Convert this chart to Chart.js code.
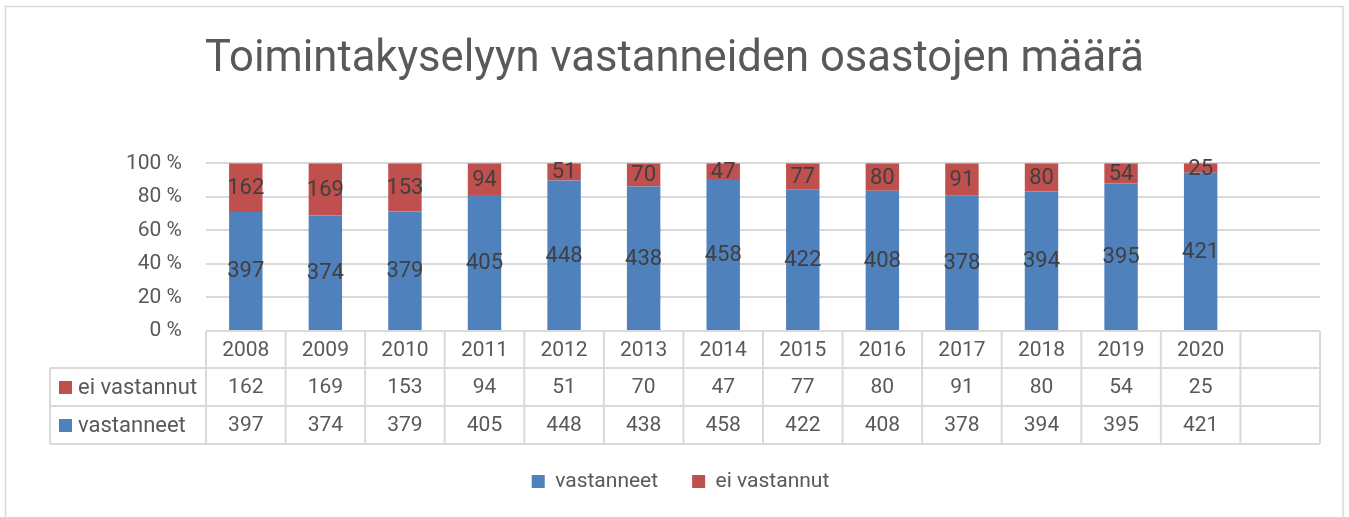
<!DOCTYPE html>
<html>
<head>
<meta charset="utf-8">
<script src="https://cdn.jsdelivr.net/npm/chart.js@4/dist/chart.umd.min.js"></script>
<style>
  html, body { margin: 0; padding: 0; background: #fff; }
  #wrap { width: 1349px; height: 517px; }
</style>
</head>
<body>
<div id="wrap"><canvas id="myChart" width="1349" height="517"></canvas></div>
<script>
const years = ['2008','2009','2010','2011','2012','2013','2014','2015','2016','2017','2018','2019','2020','']
const vastanneet = [397, 374, 379, 405, 448, 438, 458, 422, 408, 378, 394, 395, 421, null]
const eiVastannut = [162, 169, 153, 94, 51, 70, 47, 77, 80, 91, 80, 54, 25, null]
const yTicks = [0, 20, 40, 60, 80, 100]

const FONT = 'Roboto, "Open Sans", sans-serif'
const BLUE = '#4f81bd'
const RED = '#c0504d'
const GRID = '#d9d9d9'

// 100 % pinottu: osuudet lasketaan kappalemääristä
const share = (arr, i) => {
    const a = vastanneet[i], b = eiVastannut[i]
    if (a == null || b == null) return null
    return arr[i] / (a + b) * 100
}
const pctVast = years.map((_, i) => share(vastanneet, i))
const pctEi = years.map((_, i) => share(eiVastannut, i))

// kehys ja valkoinen tausta
const framePlugin = {
    id: 'frame',
    afterLayout(chart) {
        // selite hieman oikealle kuten alkuperäisessä
        chart.legend.left += 6
        chart.legend.right += 6
    },
    beforeDraw(chart) {
        const c = chart.ctx
        c.save()
        c.fillStyle = '#fff'
        c.fillRect(0, 0, chart.width, chart.height)
        c.strokeStyle = GRID
        c.lineWidth = 1.5
        c.strokeRect(5.5, 6.5, 1337.5, 530)
        c.restore()
    }
}

// arvot pylväiden keskelle
const labelPlugin = {
    id: 'segLabels',
    afterDatasetsDraw(chart) {
        const c = chart.ctx
        const raw = [vastanneet, eiVastannut]
        c.save()
        c.font = '22px ' + FONT
        c.fillStyle = '#404040'
        c.textAlign = 'center'
        c.textBaseline = 'middle'
        chart.data.datasets.forEach((ds, di) => {
            chart.getDatasetMeta(di).data.forEach((el, i) => {
                if (raw[di][i] == null) return
                c.fillText(String(raw[di][i]), el.x, (el.y + el.base) / 2 + 1)
            })
        })
        c.restore()
    }
}

// datataulukko x-akselin alle
const tablePlugin = {
    id: 'dataTable',
    afterDraw(chart) {
        const c = chart.ctx
        const xs = chart.scales.x
        const area = chart.chartArea
        const n = years.length
        const cw = (area.right - area.left) / n
        const top = area.bottom
        const rows = [top, top + 37, top + 75, top + 113]
        const leftCol = 50

        c.save()
        c.strokeStyle = GRID
        c.lineWidth = 2
        c.beginPath()
        // vaakaviivat
        c.moveTo(area.left, rows[0]); c.lineTo(area.right, rows[0])
        for (let r = 1; r < rows.length; r++) {
            c.moveTo(leftCol, rows[r]); c.lineTo(area.right, rows[r])
        }
        // pystyviivat
        c.moveTo(leftCol, rows[1]); c.lineTo(leftCol, rows[3])
        for (let i = 0; i <= n; i++) {
            const x = xs.getPixelForValue(0) - cw / 2 + i * cw
            c.moveTo(x, rows[0]); c.lineTo(x, rows[3])
        }
        c.stroke()

        c.font = '21px ' + FONT
        c.fillStyle = '#595959'
        c.textAlign = 'center'
        c.textBaseline = 'middle'
        const mid = r => (rows[r] + rows[r + 1]) / 2 + 1
        years.forEach((y, i) => {
            const x = xs.getPixelForValue(i)
            c.fillText(y, x, mid(0))
            if (eiVastannut[i] != null) c.fillText(String(eiVastannut[i]), x, mid(1))
            if (vastanneet[i] != null) c.fillText(String(vastanneet[i]), x, mid(2))
        })

        // sarjojen nimet vasemmalla
        c.textAlign = 'left'
        c.fillStyle = RED
        c.fillRect(59, mid(1) - 7, 13, 13)
        c.fillStyle = BLUE
        c.fillRect(59, mid(2) - 7, 13, 13)
        c.fillStyle = '#595959'
        c.font = '22px ' + FONT
        c.fillText('ei vastannut', 78, mid(1))
        c.fillText('vastanneet', 78, mid(2))
        c.restore()
    }
}

const ctx = document.getElementById('myChart').getContext('2d')

const chart = new Chart(ctx, {
    type: 'bar',
    data: {
        labels: years,
        datasets: [{
            label: 'vastanneet',
            data: pctVast,
            backgroundColor: BLUE,
            categoryPercentage: 0.42,
            barPercentage: 1
        }, {
            label: 'ei vastannut',
            data: pctEi,
            backgroundColor: RED,
            categoryPercentage: 0.42,
            barPercentage: 1
        }]
    },
    options: {
        responsive: false,
        animation: false,
        layout: { padding: { top: 6, left: 29, right: 29, bottom: 15 } },
        plugins: {
            title: {
                display: true,
                text: 'Toimintakyselyyn vastanneiden osastojen määrä',
                color: '#595959',
                font: { family: FONT, size: 43.6, weight: 'normal' },
                padding: { top: 28, bottom: 77 }
            },
            legend: {
                position: 'bottom',
                labels: {
                    boxWidth: 13,
                    boxHeight: 13,
                    padding: 34,
                    color: '#595959',
                    font: { family: FONT, size: 21 }
                }
            },
            tooltip: { enabled: false }
        },
        scales: {
            x: {
                stacked: true,
                grid: { display: false },
                border: { display: false },
                ticks: { display: false },
                afterFit: s => { s.height = 106 }
            },
            y: {
                stacked: true,
                min: 0,
                max: 100,
                afterBuildTicks: s => { s.ticks = yTicks.map(v => ({ value: v })) },
                grid: { color: GRID, lineWidth: 2, drawTicks: false },
                border: { display: false },
                ticks: {
                    padding: 24,
                    color: '#595959',
                    font: { family: FONT, size: 21 },
                    callback: v => v + ' %'
                },
                afterFit: s => { s.width = 177 }
            }
        }
    },
    plugins: [framePlugin, labelPlugin, tablePlugin]
})
</script>
</body>
</html>
